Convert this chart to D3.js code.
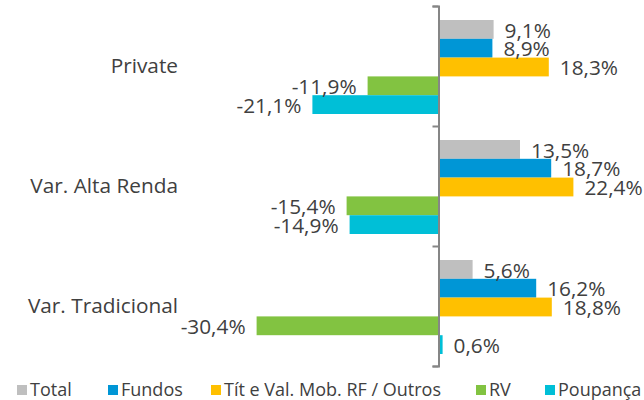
<!DOCTYPE html>
<html>
<head>
<meta charset="utf-8">
<script src="https://cdn.jsdelivr.net/npm/d3@7"></script>
<style>
  html, body { margin: 0; padding: 0; background: #fff; }
  svg { display: block; font-family: "Open Sans", sans-serif; }
</style>
</head>
<body>
<svg id="chart" width="644" height="400"></svg>
<script>
const categories = ["Private", "Var. Alta Renda", "Var. Tradicional"];
const series = ["Total", "Fundos", "Tít e Val. Mob. RF / Outros", "RV", "Poupança"];
const total    = [9.1, 13.5, 5.6];
const fundos   = [8.9, 18.7, 16.2];
const titulos  = [18.3, 22.4, 18.8];
const rv       = [-11.9, -15.4, -30.4];
const poupanca = [-21.1, -14.9, 0.6];
const colors = ["#BFBFBF", "#0096D6", "#FFC000", "#82C341", "#00BFD7"];

const values = [total, fundos, titulos, rv, poupanca];
const rows = [];
categories.forEach((c, ci) => {
  series.forEach((s, si) => rows.push({cat: c, ser: s, si, v: values[si][ci]}));
});

const svg = d3.select("#chart");
const textColor = "#404040";

const x = d3.scaleLinear().domain([-35, 35]).range([229, 649]);
const y0 = d3.scaleBand().domain(categories).range([6, 366]);
const y1 = d3.scaleBand().domain(series).range([14, 108]);

// bars
const g = svg.append("g");
g.selectAll("rect").data(rows).join("rect")
  .attr("x", d => x(Math.min(0, d.v)))
  .attr("width", d => Math.abs(x(d.v) - x(0)))
  .attr("y", d => y0(d.cat) + y1(d.ser))
  .attr("height", y1.bandwidth())
  .attr("fill", d => colors[d.si]);

// value labels
const fmt = v => d3.format(".1f")(v).replace(".", ",").replace("−", "-") + "%";
g.selectAll("text.val").data(rows).join("text")
  .attr("class", "val")
  .attr("x", d => d.v >= 0 ? x(d.v) + 11 : x(d.v) - 11)
  .attr("y", d => y0(d.cat) + y1(d.ser) + y1.bandwidth() / 2 + 1)
  .attr("dy", "0.35em")
  .attr("text-anchor", d => d.v >= 0 ? "start" : "end")
  .attr("font-size", 20.8)
  .attr("fill", textColor)
  .text(d => fmt(d.v));

// category axis with ticks at band boundaries
const yb = d3.scaleLinear().domain([0, categories.length]).range([6, 366]);
const axis = svg.append("g")
  .attr("transform", `translate(${x(0) - 0.5},0)`)
  .call(d3.axisLeft(yb).ticks(categories.length).tickFormat("").tickSize(6).tickSizeOuter(6));
axis.selectAll("path, line").attr("stroke", "#868686").attr("stroke-width", 2);

// category labels
svg.append("g").selectAll("text").data(categories).join("text")
  .attr("x", 178)
  .attr("y", d => y0(d) + y0.bandwidth() / 2)
  .attr("dy", "0.35em")
  .attr("text-anchor", "end")
  .attr("font-size", 20.8)
  .attr("fill", textColor)
  .text(d => d);

// legend
const legendX = [17, 108, 211, 476, 545];
const lg = svg.append("g").selectAll("g").data(series).join("g")
  .attr("transform", (d, i) => `translate(${legendX[i]},390)`);
lg.append("rect").attr("x", 0).attr("y", -5).attr("width", 10).attr("height", 10)
  .attr("fill", (d, i) => colors[i]);
lg.append("text").attr("x", 13).attr("y", 0).attr("dy", "0.35em")
  .attr("font-size", 18).attr("fill", textColor).text(d => d);
</script>
</body>
</html>
